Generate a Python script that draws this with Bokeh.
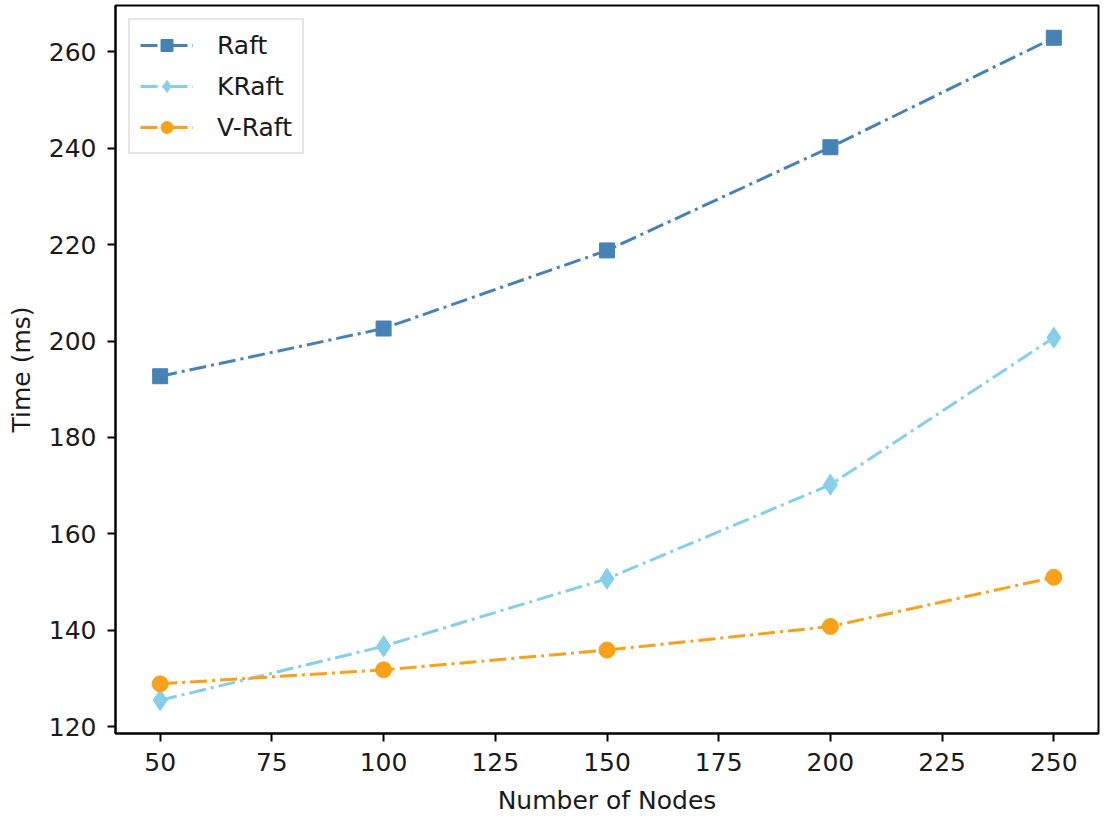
from bokeh.plotting import figure
from bokeh.models import Legend, LegendItem, FixedTicker, Range1d
from bokeh.embed import file_html
from bokeh.resources import INLINE

nodes = [50, 100, 150, 200, 250]
raft = [192.7, 202.6, 218.8, 240.2, 262.9]
kraft = [125.5, 136.7, 150.7, 170.2, 200.7]
vraft = [128.9, 131.8, 135.9, 140.8, 151.0]
x_ticks = [50, 75, 100, 125, 150, 175, 200, 225, 250]
y_ticks = [120, 140, 160, 180, 200, 220, 240, 260]

FONT = "DejaVu Sans"

p = figure(width=1100, height=817, output_backend="svg", toolbar_location=None,
           x_range=Range1d(40, 260), y_range=Range1d(118.6, 269.6),
           min_border_left=115, min_border_top=5, min_border_right=2, min_border_bottom=80)
p.grid.visible = False
p.outline_line_color = "black"
p.outline_line_width = 2
p.background_fill_color = "white"

for ax in (p.xaxis[0], p.yaxis[0]):
    ax.axis_line_width = 2
    ax.axis_line_color = "black"
    ax.major_tick_line_width = 2
    ax.major_tick_line_color = "black"
    ax.major_tick_out = 8
    ax.major_tick_in = 0
    ax.minor_tick_out = 0
    ax.minor_tick_in = 0
    ax.major_label_text_font = FONT
    ax.major_label_text_font_size = "25px"
    ax.major_label_text_color = "#1a1a1a"
    ax.axis_label_text_font = FONT
    ax.axis_label_text_font_size = "25px"
    ax.axis_label_text_font_style = "normal"
    ax.axis_label_text_color = "#1a1a1a"

p.xaxis.ticker = FixedTicker(ticks=x_ticks)
p.yaxis.ticker = FixedTicker(ticks=y_ticks)
p.xaxis.axis_label = "Number of Nodes"
p.yaxis.axis_label = "Time (ms)"
p.xaxis.major_label_standoff = 11
p.yaxis.major_label_standoff = 11
p.xaxis.axis_label_standoff = 12
p.yaxis.axis_label_standoff = 10

dash = "17 5 3 5"
series = [
    ("Raft", raft, "#4682B4", "square", 15),
    ("KRaft", kraft, "#87CEEB", "diamond", 21),
    ("V-Raft", vraft, "#F9A11B", "circle", 16),
]
items = []
for name, ys, col, mk, sz in series:
    l = p.line(nodes, ys, line_color=col, line_width=3, line_dash=dash)
    s = p.scatter(nodes, ys, marker=mk, size=sz, fill_color=col, line_color=col)
    items.append(LegendItem(label=name, renderers=[l, s]))

legend = Legend(items=items, location="top_left")
legend.margin = 13
legend.label_text_font = FONT
legend.label_text_font_size = "25px"
legend.label_text_color = "#1a1a1a"
legend.border_line_color = "#cccccc"
legend.border_line_width = 2
legend.glyph_width = 53
legend.glyph_height = 30
legend.label_standoff = 24
legend.spacing = 11
legend.padding = 10
legend.label_height = 30
p.add_layout(legend)

open("out.html", "w").write(file_html(p, INLINE))
